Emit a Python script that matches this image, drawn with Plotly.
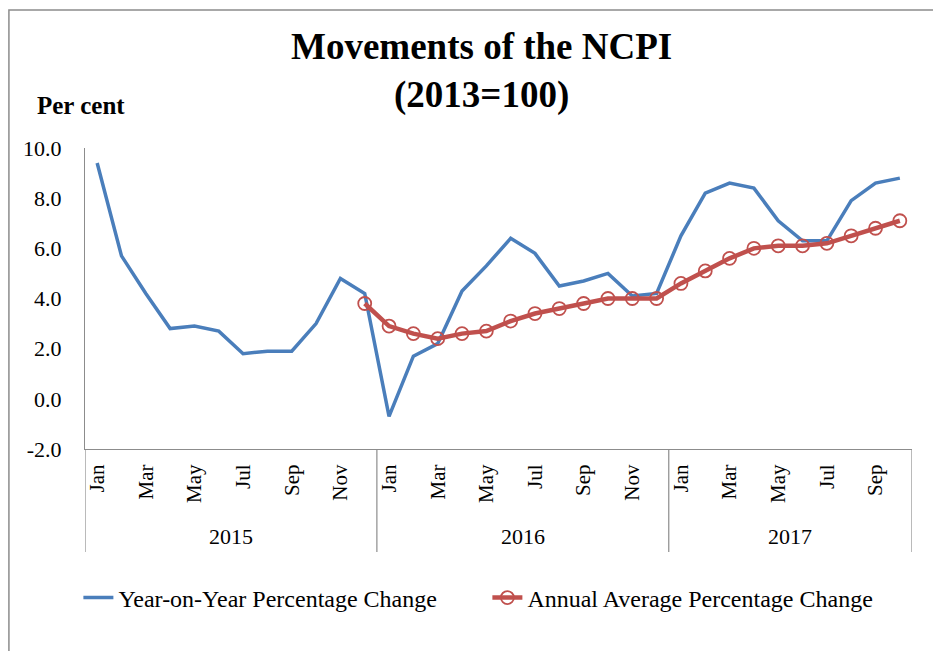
import plotly.graph_objects as go

months = ["Jan", "Feb", "Mar", "Apr", "May", "Jun", "Jul", "Aug", "Sep", "Oct", "Nov", "Dec"]
years = ["2015", "2016", "2017"]
month_labels = months * 2 + months[:10]

yoy = [9.4, 5.7, 4.2, 2.8, 2.9, 2.7, 1.8, 1.9, 1.9, 3.0, 4.8, 4.2,
       -0.7, 1.7, 2.2, 4.3, 5.3, 6.4, 5.8, 4.5, 4.7, 5.0, 4.1, 4.2,
       6.5, 8.2, 8.6, 8.4, 7.1, 6.3, 6.3, 7.9, 8.6, 8.8]
avg = [None] * 11 + [3.8,
       2.9, 2.6, 2.4, 2.6, 2.7, 3.1, 3.4, 3.6, 3.8, 4.0, 4.0, 4.0,
       4.6, 5.1, 5.6, 6.0, 6.1, 6.1, 6.2, 6.5, 6.8, 7.1]
y_ticks = [-2, 0, 2, 4, 6, 8, 10]
y_tick_labels = ["-2.0", "0.0", "2.0", "4.0", "6.0", "8.0", "10.0"]

x = list(range(len(yoy)))
FONT = "Liberation Serif"
AX = "#8c8c8c"

fig = go.Figure()
fig.add_trace(go.Scatter(x=x, y=yoy, mode="lines", name="Year-on-Year Percentage Change",
                         line=dict(color="#4a7ebb", width=3.5)))
fig.add_trace(go.Scatter(x=x, y=avg, mode="lines+markers", name="Annual Average Percentage Change",
                         line=dict(color="#c0504d", width=4.5),
                         marker=dict(symbol="circle-open", size=13, color="#c0504d",
                                     line=dict(width=1.8, color="#c0504d"))))

tickvals = [i for i in x if i % 2 == 0]
ticktext = [month_labels[i] for i in tickvals]

shapes = []
for xv in [-0.5, 11.5, 23.5, 33.5]:
    shapes.append(dict(type="line", xref="x", yref="paper", x0=xv, x1=xv, y0=0, y1=-0.342,
                       line=dict(color=AX, width=1.2)))
# outer frame
shapes.append(dict(type="rect", xref="paper", yref="paper", x0=-0.092, x1=1.3, y0=-1.0, y1=1.4585,
                   line=dict(color=AX, width=1.5)))

annotations = [
    dict(text="<b>Movements of the NCPI<br>(2013=100)</b>", xref="paper", yref="paper",
         x=0.479, y=1.255, xanchor="center", yanchor="middle", showarrow=False,
         font=dict(family=FONT, size=37, color="black")),
    dict(text="<b>Per cent</b>", xref="paper", yref="paper", x=-0.06, y=1.14,
         xanchor="left", yanchor="middle", showarrow=False,
         font=dict(family=FONT, size=25, color="black")),
]
for yr, cx in zip(years, [5.5, 17.5, 28.5]):
    annotations.append(dict(text=yr, xref="x", yref="paper", x=cx, y=-0.292,
                            xanchor="center", yanchor="middle", showarrow=False,
                            font=dict(family=FONT, size=22, color="black")))

fig.update_layout(
    width=933, height=643,
    margin=dict(l=77, r=29, t=140, b=202),
    paper_bgcolor="white", plot_bgcolor="white",
    font=dict(family=FONT, size=22, color="black"),
    showlegend=True,
    legend=dict(orientation="h", x=-0.008, y=-0.495, xanchor="left", yanchor="middle",
                entrywidth=364, itemwidth=30,
                font=dict(family=FONT, size=24, color="black"), bgcolor="rgba(0,0,0,0)"),
    xaxis=dict(range=[-0.5, 33.5], tickvals=tickvals, ticktext=ticktext, tickangle=-90,
               showline=True, linecolor=AX, linewidth=1.2, showgrid=False, zeroline=False,
               ticks="", ticklabelstandoff=6, tickfont=dict(family=FONT, size=21, color="black")),
    yaxis=dict(range=[-2, 10], tickvals=y_ticks, ticktext=y_tick_labels, showline=True,
               linecolor=AX, linewidth=1.2, showgrid=False, zeroline=False, ticks="",
               ticklabelstandoff=18, tickfont=dict(family=FONT, size=22, color="black")),
    shapes=shapes, annotations=annotations,
)

fig.write_html("out.html")
